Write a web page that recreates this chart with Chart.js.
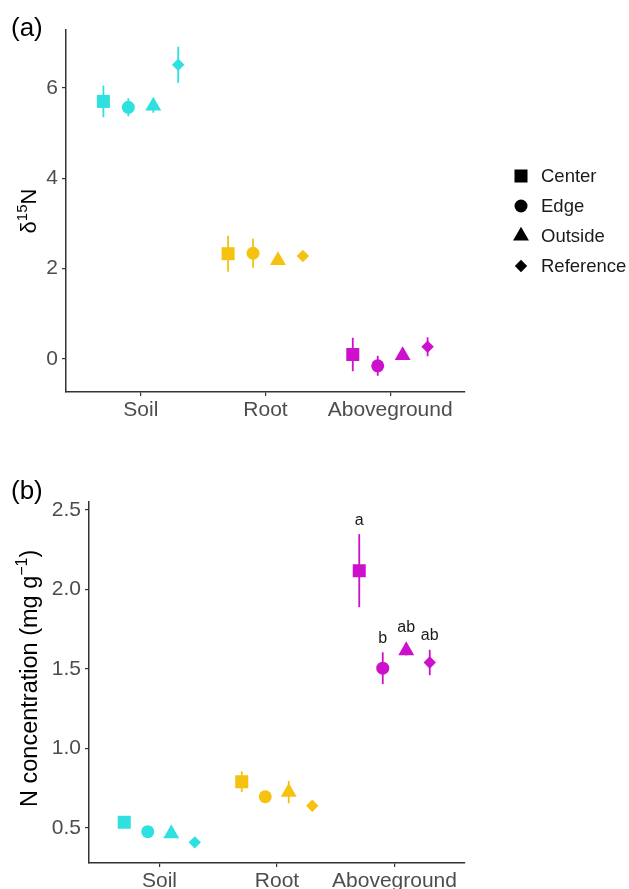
<!DOCTYPE html>
<html>
<head>
<meta charset="utf-8">
<script src="https://cdn.jsdelivr.net/npm/chart.js@4.4.1/dist/chart.umd.min.js"></script>
<style>
  html, body { margin: 0; padding: 0; background: #fff; }
  #wrap { position: relative; width: 629px; height: 889px; }
  canvas { position: absolute; left: 0; }
  #chartA { top: 0; }
  #chartB { top: 440px; }
</style>
</head>
<body>
<div id="wrap">
  <canvas id="chartA" width="629" height="440"></canvas>
  <canvas id="chartB" width="629" height="449"></canvas>
</div>
<script>
const categories = ['Soil', 'Root', 'Aboveground'];
const treatments = ['Center', 'Edge', 'Outside', 'Reference'];
const categoryColors = ['#2ee0e0', '#f4c20f', '#cc10cc'];

// panel (a): delta 15N, one value per category
const d15nCenter = [5.70, 2.33, 0.10];
const d15nEdge = [5.57, 2.34, -0.15];
const d15nOutside = [5.60, 2.18, 0.08];
const d15nReference = [6.51, 2.28, 0.27];
const d15nErrCenter = [0.35, 0.40, 0.37];
const d15nErrEdge = [0.20, 0.32, 0.22];
const d15nErrOutside = [0.15, 0.08, 0.04];
const d15nErrReference = [0.40, 0.05, 0.21];
const d15nTicks = [0, 2, 4, 6];

// panel (b): N concentration (mg g-1)
const nConcCenter = [0.534, 0.79, 2.118];
const nConcEdge = [0.475, 0.695, 1.504];
const nConcOutside = [0.462, 0.724, 1.615];
const nConcReference = [0.408, 0.638, 1.54];
const nConcErrCenter = [0.02, 0.065, 0.23];
const nConcErrEdge = [0.015, 0.02, 0.10];
const nConcErrOutside = [0.015, 0.07, 0.03];
const nConcErrReference = [0.01, 0.01, 0.08];
const nConcTicks = [0.5, 1.0, 1.5, 2.0, 2.5];
// significance letters for the Aboveground group
const aboveLetters = ['a', 'b', 'ab', 'ab'];

const FONT = "'Liberation Sans', Arial, sans-serif";
const pointStyles = ['rect', 'circle', 'triangle', 'rectRot'];
const pointSizes = [9.2, 6.5, 9.2, 6.2];
const dodge = 0.2;

Chart.defaults.font.family = FONT;

function drawParts(ctx, parts, cx, cy) {
  // draws text pieces rotated -90deg, centred on (cx, cy)
  ctx.save();
  ctx.translate(cx, cy);
  ctx.rotate(-Math.PI / 2);
  ctx.fillStyle = '#000';
  ctx.textBaseline = 'alphabetic';
  ctx.textAlign = 'left';
  let total = 0;
  parts.forEach((p) => {
    ctx.font = `${p.size}px ${FONT}`;
    p.w = ctx.measureText(p.text).width;
    total += p.w;
  });
  let x = -total / 2;
  parts.forEach((p) => {
    ctx.font = `${p.size}px ${FONT}`;
    ctx.fillText(p.text, x, -(p.rise || 0));
    x += p.w;
  });
  ctx.restore();
}

const errorBars = {
  id: 'errorBars',
  beforeDatasetsDraw(chart, args, opts) {
    const { ctx } = chart;
    const yScale = chart.scales.y;
    ctx.save();
    ctx.lineWidth = 1.8;
    chart.data.datasets.forEach((ds, i) => {
      const meta = chart.getDatasetMeta(i);
      ds.errors.forEach((e, j) => {
        const pt = meta.data[j];
        const v = ds.data[j].y;
        ctx.strokeStyle = categoryColors[j];
        ctx.beginPath();
        ctx.moveTo(pt.x, yScale.getPixelForValue(v - e));
        ctx.lineTo(pt.x, yScale.getPixelForValue(v + e));
        ctx.stroke();
      });
    });
    ctx.restore();
  },
};

const panelText = {
  id: 'panelText',
  afterDraw(chart, args, opts) {
    const { ctx, chartArea } = chart;
    ctx.save();
    ctx.fillStyle = '#000';
    ctx.font = `26px ${FONT}`;
    ctx.textBaseline = 'alphabetic';
    ctx.fillText(opts.tag, 11, opts.tagY);
    ctx.restore();
    drawParts(ctx, opts.title, opts.titleX, (chartArea.top + chartArea.bottom) / 2 + opts.titleShift);
  },
};

const legendBox = {
  id: 'legendBox',
  afterDraw(chart, args, opts) {
    if (!opts.show) return;
    const { ctx } = chart;
    ctx.save();
    treatments.forEach((t, i) => {
      const y = 176 + i * 30;
      ctx.fillStyle = '#000';
      Chart.helpers.drawPoint(ctx, { pointStyle: pointStyles[i], radius: pointSizes[i], borderWidth: 0 }, 521, y);
      ctx.fillStyle = '#1a1a1a';
      ctx.font = `18.5px ${FONT}`;
      ctx.textBaseline = 'middle';
      ctx.fillText(t, 541, y + 1);
    });
    ctx.restore();
  },
};

const letters = {
  id: 'letters',
  afterDatasetsDraw(chart, args, opts) {
    if (!opts.labels) return;
    const { ctx } = chart;
    const yScale = chart.scales.y;
    const j = categories.indexOf('Aboveground');
    ctx.save();
    ctx.fillStyle = '#1a1a1a';
    ctx.font = `16px ${FONT}`;
    ctx.textAlign = 'center';
    ctx.textBaseline = 'middle';
    chart.data.datasets.forEach((ds, i) => {
      const pt = chart.getDatasetMeta(i).data[j];
      const top = Math.min(yScale.getPixelForValue(ds.data[j].y + ds.errors[j]), pt.y - pointSizes[i]);
      ctx.fillText(opts.labels[i], pt.x, top - 14);
    });
    ctx.restore();
  },
};

function buildChart(canvasId, series, errors, yMin, yMax, yTicks, tickFmt, axisWidth, topPad, xAxisHeight, panel) {
  const datasets = treatments.map((t, i) => ({
    label: t,
    data: categories.map((c, j) => ({ x: j + 1 + (i - 1.5) * dodge, y: series[i][j] })),
    errors: errors[i],
    pointStyle: pointStyles[i],
    pointRadius: pointSizes[i],
    pointBackgroundColor: categoryColors,
    pointBorderWidth: 0,
  }));
  return new Chart(document.getElementById(canvasId), {
    type: 'scatter',
    data: { datasets },
    plugins: [errorBars, panelText, legendBox, letters],
    options: {
      responsive: false,
      animation: false,
      events: [],
      layout: { padding: { left: 0, right: 164, top: topPad, bottom: 0 } },
      plugins: {
        legend: { display: false },
        tooltip: { enabled: false },
        panelText: panel.text,
        legendBox: { show: panel.legend },
        letters: { labels: panel.letters },
      },
      scales: {
        x: {
          type: 'linear',
          min: 0.4,
          max: 3.6,
          afterBuildTicks: (scale) => { scale.ticks = categories.map((c, j) => ({ value: j + 1 })); },
          afterFit: (scale) => { scale.height = xAxisHeight; },
          ticks: {
            callback: (v) => categories[Math.round(v) - 1],
            color: '#4d4d4d',
            font: { size: 21 },
            padding: 2,
            maxRotation: 0,
          },
          grid: { drawOnChartArea: false, color: '#333', lineWidth: 1.2, tickLength: 4 },
          border: { color: '#333', width: 1.5 },
        },
        y: {
          type: 'linear',
          min: yMin,
          max: yMax,
          afterBuildTicks: (scale) => { scale.ticks = yTicks.map((v) => ({ value: v })); },
          afterFit: (scale) => { scale.width = axisWidth; },
          ticks: {
            callback: tickFmt,
            color: '#4d4d4d',
            font: { size: 21 },
            padding: 4,
          },
          grid: { drawOnChartArea: false, color: '#333', lineWidth: 1.2, tickLength: 4 },
          border: { color: '#333', width: 1.5 },
        },
      },
    },
  });
}

buildChart(
  'chartA',
  [d15nCenter, d15nEdge, d15nOutside, d15nReference],
  [d15nErrCenter, d15nErrEdge, d15nErrOutside, d15nErrReference],
  -0.73, 7.28, d15nTicks, (v) => String(v), 66, 30, 48,
  {
    text: {
      tag: '(a)', tagY: 36, titleX: 36, titleShift: 0,
      title: [{ text: 'δ', size: 22 }, { text: '15', size: 15, rise: 9 }, { text: 'N', size: 22 }],
    },
    legend: true,
    letters: null,
  },
);

buildChart(
  'chartB',
  [nConcCenter, nConcEdge, nConcOutside, nConcReference],
  [nConcErrCenter, nConcErrEdge, nConcErrOutside, nConcErrReference],
  0.278, 2.552, nConcTicks, (v) => v.toFixed(1), 89, 61.7, 26,
  {
    text: {
      tag: '(b)', tagY: 59, titleX: 37, titleShift: -4,
      title: [{ text: 'N concentration (mg g', size: 23.5 }, { text: '−1', size: 16, rise: 10 }, { text: ')', size: 23.5 }],
    },
    legend: false,
    letters: aboveLetters,
  },
);
</script>
</body>
</html>
